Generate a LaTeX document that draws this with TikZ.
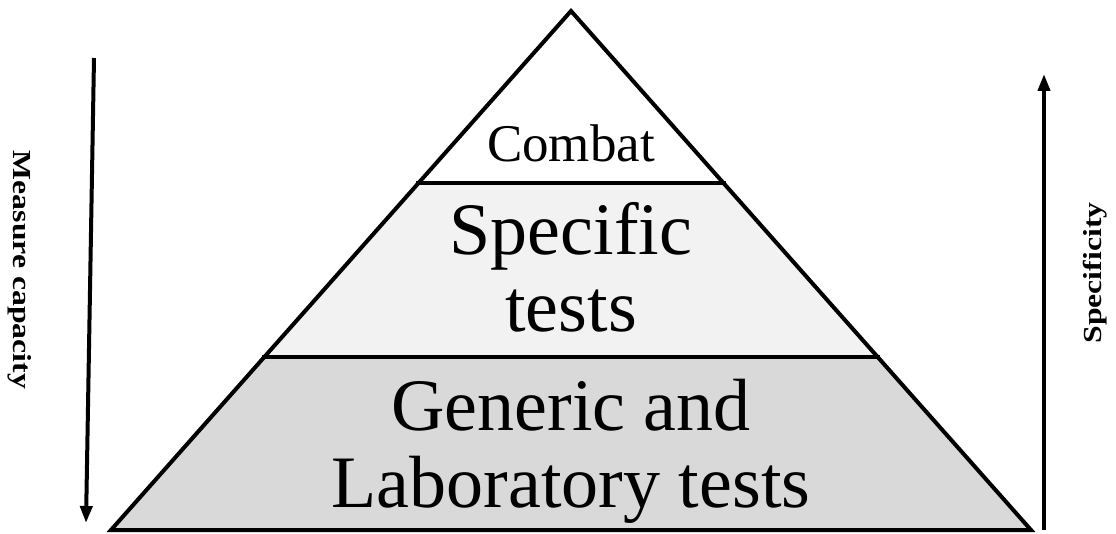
\documentclass[tikz,border=0pt]{standalone}
\usepackage{fontspec}
\setmainfont{Liberation Serif}
\newfontfamily\stretchfont{Liberation Serif}[FakeStretch=1.22]
\usetikzlibrary{arrows.meta}

\begin{document}
\begin{tikzpicture}[x=1pt,y=-1pt,line width=4pt,
    tier/.style={anchor=base,align=center,inner sep=0pt},
    axis/.style={-{Triangle[length=17pt,width=12pt]}},
    axislabel/.style={anchor=base,inner sep=0pt,font=\stretchfont\bfseries\fontsize{26}{30}\selectfont}]
  \useasboundingbox (0,0) rectangle (1116,534);
  % corners of the pyramid and its layers
  \coordinate (apex) at (571,11);
  \coordinate (topL) at (416,183);
  \coordinate (topR) at (726,183);
  \coordinate (midL) at (262,357);
  \coordinate (midR) at (880,357);
  \coordinate (baseL) at (111,530);
  \coordinate (baseR) at (1031,530);
  \fill[gray!30] (midL) -- (midR) -- (baseR) -- (baseL) -- cycle;
  \fill[gray!10] (topL) -- (topR) -- (midR) -- (midL) -- cycle;
  \draw[line join=miter] (apex) -- (baseR) -- (baseL) -- cycle;
  \draw (topL) -- (topR);
  \draw (midL) -- (midR);
  % texts of the layers (base = last line)
  \node[tier,font=\fontsize{53}{60}\selectfont] (combat) at (571,162) {Combat};
  \node[tier,font=\fontsize{74}{77}\selectfont] (specific) at (571,332) {Specific\\tests};
  \node[tier,font=\fontsize{74}{77}\selectfont] (generic) at (571,507) {Generic and\\Laboratory tests};
  % side arrows
  \coordinate (capStart) at (94,58);
  \coordinate (capEnd) at (86,523);
  \coordinate (specStart) at (1044,530);
  \coordinate (specEnd) at (1044,74);
  \draw[axis] (capStart) -- (capEnd);
  \draw[axis] (specStart) -- (specEnd);
  \node[axislabel,rotate=-90] (capacity) at (13,270) {Measure capacity};
  \node[axislabel,rotate=90] (specificity) at (1101,273) {Specificity};
\end{tikzpicture}
\end{document}
